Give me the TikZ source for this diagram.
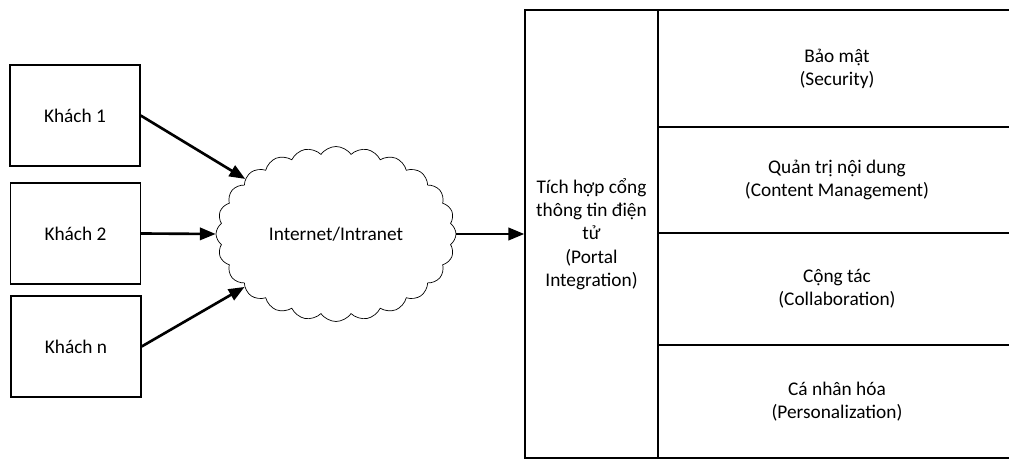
\documentclass[tikz,border=0pt]{standalone}
\usepackage{fontspec}
\setmainfont{Carlito}
\usetikzlibrary{shapes.symbols,arrows.meta}

\tikzset{
  khbox/.style={draw,thick,minimum width=2.6cm,minimum height=2.02cm},
  cellbox/.style={draw,thick,minimum width=7.16cm,align=center},
  link/.style={-{Triangle[length=9pt,width=7pt]},line width=1.5pt}
}

\begin{document}
\begin{tikzpicture}[x=0.02cm,y=-0.02cm,font=\fontsize{11}{13.2}\selectfont]
  % Fix the page size
  \useasboundingbox (0,0) rectangle (1009,459);

  % Draw clients
  \node[khbox] (k1) at (75,115.5) {Khách 1};
  \node[khbox] (k2) at (75.5,233.5) {Khách 2};
  \node[khbox] (kn) at (76,346.5) {Khách n};

  % Draw cloud
  \node[cloud,draw,thin,cloud puffs=24,cloud puff arc=110,aspect=1.36,
        minimum width=4.8cm,minimum height=3.5cm] (net) at (336,234) {Internet/Intranet};

  % Draw portal block
  \node[draw,thick,minimum width=2.66cm,minimum height=8.96cm,align=center] (portal) at (591.5,234)
    {Tích hợp cổng\\thông tin điện\\tử\\(Portal\\Integration)};

  % Draw services
  \node[cellbox,minimum height=2.34cm] (sec) at (837,68.5) {Bảo mật\\(Security)};
  \node[cellbox,minimum height=2.12cm] (cms) at (837,180) {Quản trị nội dung\\(Content Management)};
  \node[cellbox,minimum height=2.24cm] (col) at (837,289) {Cộng tác\\(Collaboration)};
  \node[cellbox,minimum height=2.26cm] (per) at (837,401.5) {Cá nhân hóa\\(Personalization)};

  % Draw arrows
  \draw[link] (k1.east) -- (net);
  \draw[link] (k2.east) -- (net.west);
  \draw[link] (kn.east) -- (net);
  \draw[link] (net.east) -- (portal.west);
\end{tikzpicture}
\end{document}
